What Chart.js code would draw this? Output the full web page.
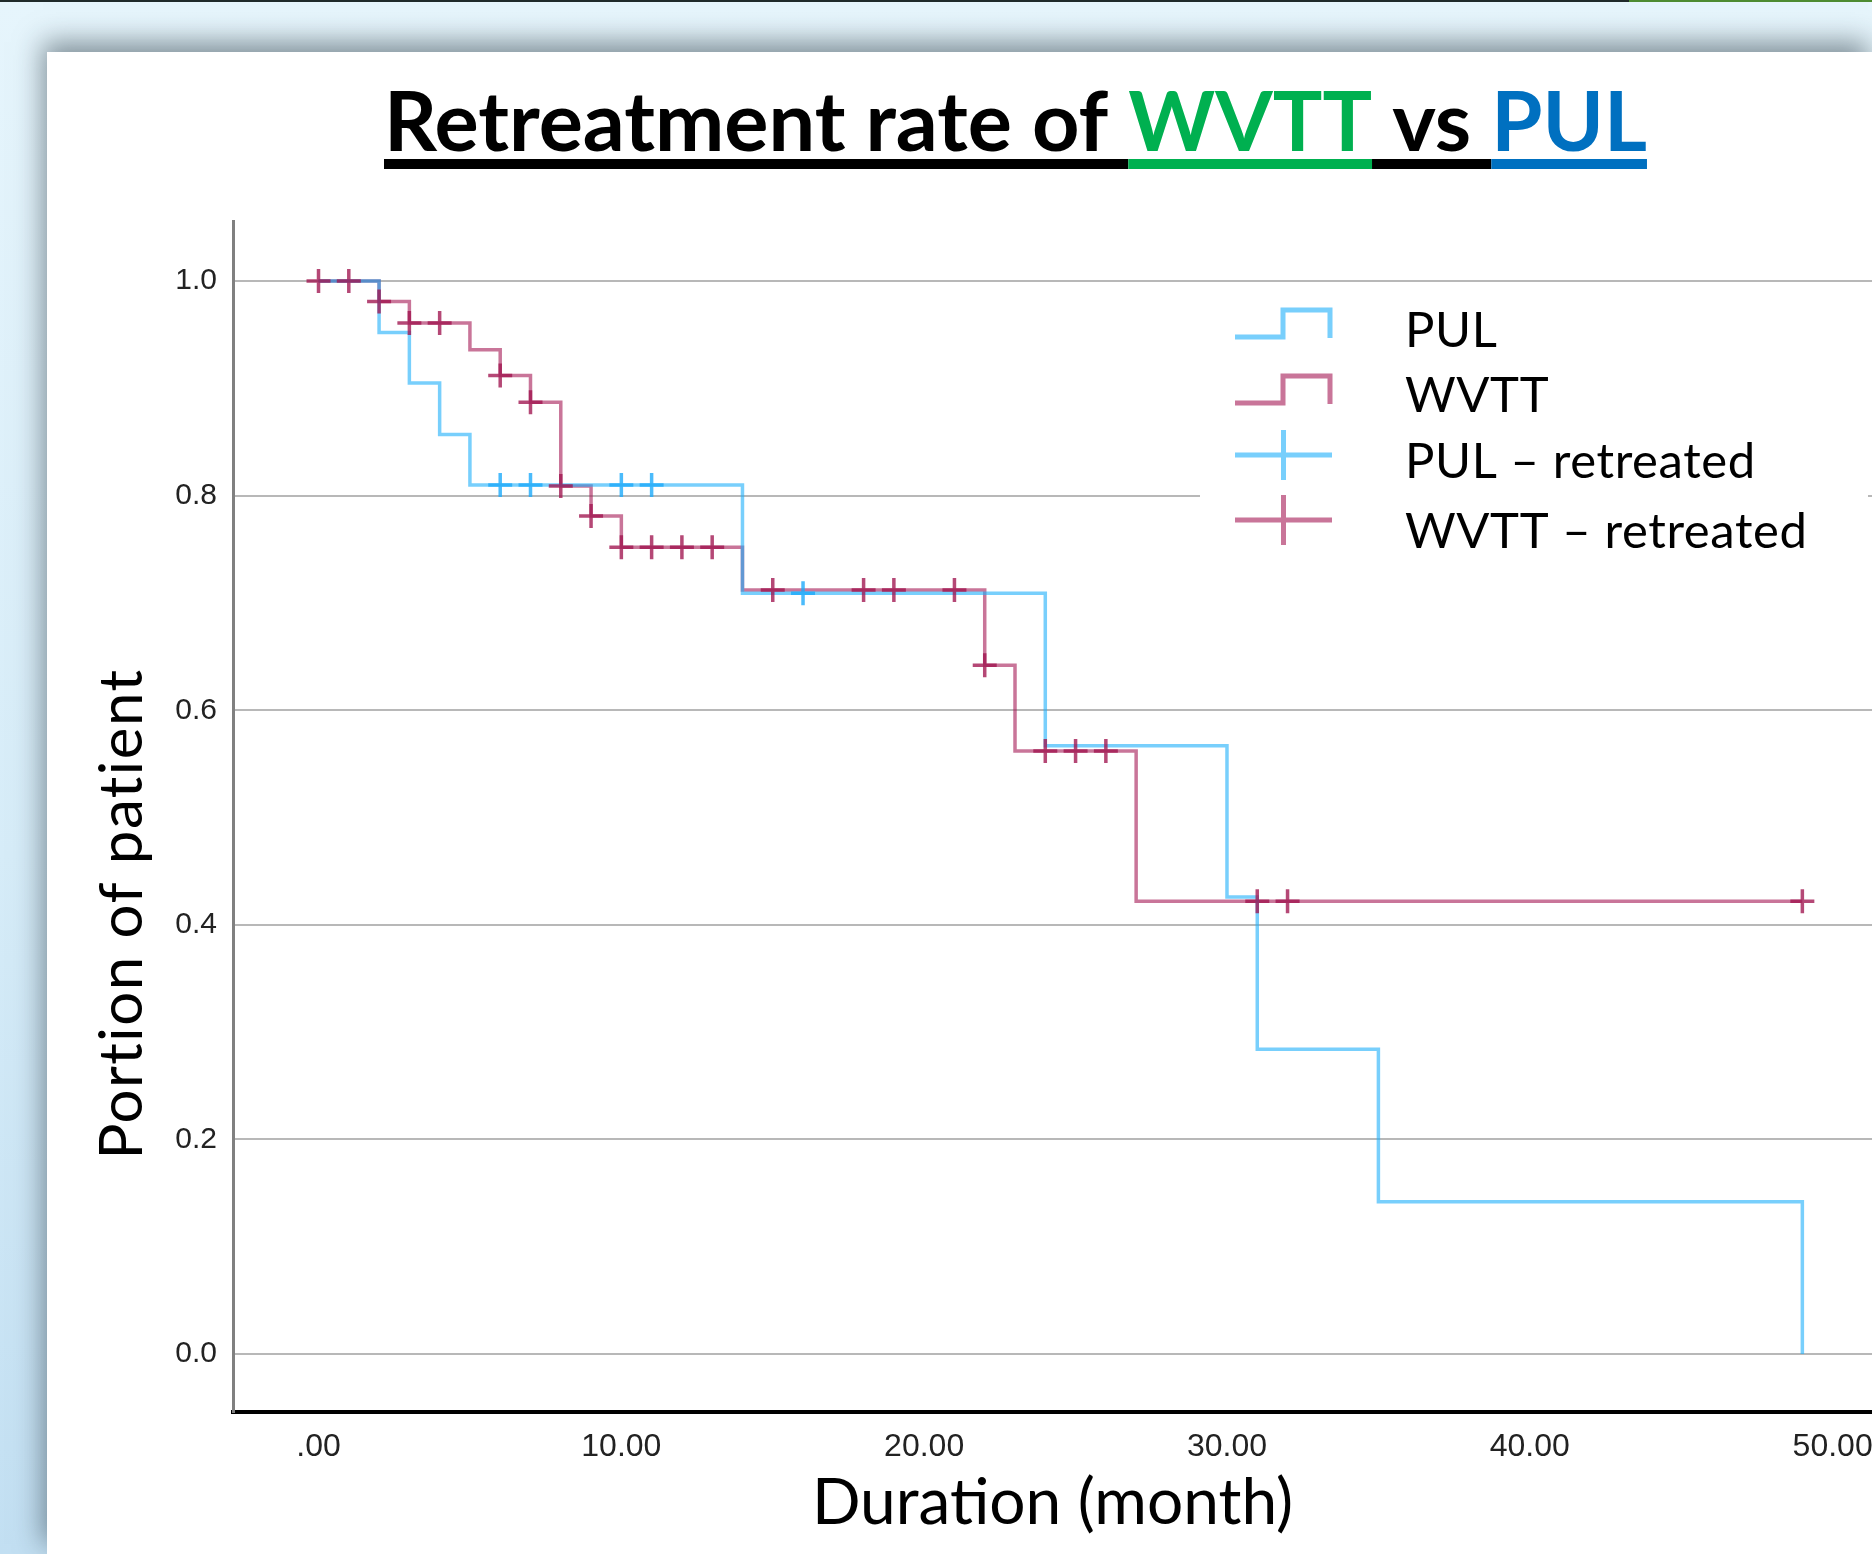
<!DOCTYPE html>
<html lang="en">
<head>
<meta charset="UTF-8">
<title>Retreatment rate of WVTT vs PUL</title>
<script src="https://cdn.jsdelivr.net/npm/chart.js@4.4.1/dist/chart.umd.min.js"></script>
<style>
  html, body { margin: 0; padding: 0; }
  body {
    width: 1872px;
    height: 1554px;
    overflow: hidden;
    position: relative;
    background: linear-gradient(180deg, #e6f5fc 0%, #d6ecf8 55%, #c2dff2 100%);
  }
  .linhaTopo { position: absolute; left: 0; top: 0; width: 1629px; height: 2px; background: #1f2a2a; }
  .linhaTopo.verde { left: 1629px; width: 243px; background: #4d8b31; }
  .cartao {
    position: absolute; left: 47px; top: 52px; right: 0; bottom: 0;
    background: #fff;
    box-shadow: -4px -10px 26px rgba(30, 45, 55, 0.5);
  }
  #grafico { position: absolute; left: 0; top: 0; }
</style>
</head>
<body>
<div class="linhaTopo"></div><div class="linhaTopo verde"></div>
<div class="cartao"></div>
<canvas id="grafico" width="1872" height="1554"></canvas>
<script>
// Kaplan-Meier steps (month, portion still not retreated)
const pulTimes = [0, 2, 3, 4, 5, 14, 24, 30, 31, 35, 49];
const pulValues = [1, 0.952, 0.905, 0.857, 0.810, 0.709, 0.567, 0.426, 0.284, 0.142, 0];
const wvttTimes = [0, 2, 3, 5, 6, 7, 8, 9, 10, 14, 22, 23, 27, 49];
const wvttValues = [1, 0.981, 0.961, 0.936, 0.912, 0.887, 0.809, 0.781, 0.752, 0.712, 0.642, 0.562, 0.422, 0.422];

// Censor marks (+)
const pulCensoredTimes = [6, 7, 10, 11, 16];
const pulCensoredValues = [0.810, 0.810, 0.810, 0.810, 0.709];
const wvttCensoredTimes = [0, 1, 2, 3, 4, 6, 7, 8, 9, 10, 11, 12, 13, 15, 18, 19, 21, 22, 24, 25, 26, 31, 32, 49];
const wvttCensoredValues = [1, 1, 0.981, 0.961, 0.961, 0.912, 0.887, 0.809, 0.781, 0.752, 0.752, 0.752, 0.752,
  0.712, 0.712, 0.712, 0.712, 0.642, 0.562, 0.562, 0.562, 0.422, 0.422, 0.422];

// Ticks and texts
const xTicks = [0, 10, 20, 30, 40, 50];
const xTickLabels = ['.00', '10.00', '20.00', '30.00', '40.00', '50.00'];
const yTicks = [0, 0.2, 0.4, 0.6, 0.8, 1.0];
const yTickLabels = ['0.0', '0.2', '0.4', '0.6', '0.8', '1.0'];
const legendLabels = ['PUL', 'WVTT', 'PUL – retreated', 'WVTT – retreated'];
const titleParts = ['Retreatment rate of ', 'WVTT', ' vs ', 'PUL'];
const xTitle = 'Duration (month)';
const yTitle = 'Portion of patient';

// Colours
const pulColor = 'rgba(30, 175, 250, 0.6)';
const wvttColor = 'rgba(165, 25, 85, 0.6)';
const pulMarkColor = 'rgba(30, 170, 250, 0.8)';
const wvttMarkColor = 'rgba(160, 20, 80, 0.78)';
const titleColors = ['#000000', '#00b050', '#000000', '#0070c0'];

const ctx = document.getElementById('grafico').getContext('2d');

function toPoints(times, values) {
  return times.map((t, i) => ({ x: t, y: values[i] }));
}

// Title with coloured words and a thick underline
const titlePlugin = {
  id: 'titleParts',
  afterDraw(chart) {
    const c = chart.ctx;
    const left = 384, width = 1263, baseline = 151;
    c.save();
    c.font = 'bold 90px Lato';
    const total = titleParts.reduce((w, p) => w + c.measureText(p).width, 0);
    const size = 90 * width / total;
    c.font = `bold ${size}px Lato`;
    c.textBaseline = 'alphabetic';
    let x = left;
    titleParts.forEach((part, i) => {
      const w = c.measureText(part).width;
      c.fillStyle = titleColors[i];
      c.fillText(part, x, baseline);
      c.fillRect(x, 159, w, 10);
      x += w;
    });
    c.restore();
  }
};

// Y axis title, sits lower than the axis centre
const yTitlePlugin = {
  id: 'yTitle',
  afterDraw(chart) {
    const c = chart.ctx;
    c.save();
    c.translate(142, 914);
    c.rotate(-Math.PI / 2);
    c.font = '60px Lato';
    c.letterSpacing = '1.5px';
    c.fillStyle = '#000';
    c.textAlign = 'center';
    c.textBaseline = 'alphabetic';
    c.fillText(yTitle, 0, 0);
    c.restore();
  }
};

// Legend with step and cross symbols
const legendPlugin = {
  id: 'kmLegend',
  afterDraw(chart) {
    const c = chart.ctx;
    const rows = [
      { base: 347, icon: 323 },
      { base: 412, icon: 389 },
      { base: 478, icon: 455 },
      { base: 548, icon: 520 }
    ];
    c.save();
    c.fillStyle = '#fff';
    c.fillRect(1200, 290, 668, 275);
    rows.forEach((row, i) => {
      c.strokeStyle = i % 2 === 0 ? pulColor : wvttColor;
      c.lineWidth = 5;
      c.beginPath();
      if (i < 2) {
        c.moveTo(1235, row.icon + 14);
        c.lineTo(1283, row.icon + 14);
        c.lineTo(1283, row.icon - 13);
        c.lineTo(1330, row.icon - 13);
        c.lineTo(1330, row.icon + 15);
      } else {
        c.moveTo(1235, row.icon);
        c.lineTo(1332, row.icon);
        c.moveTo(1283.5, row.icon - 25);
        c.lineTo(1283.5, row.icon + 25);
      }
      c.stroke();
      c.fillStyle = '#000';
      c.font = '49px Lato';
      c.letterSpacing = '0.6px';
      c.textBaseline = 'alphabetic';
      c.fillText(legendLabels[i], 1405, row.base);
    });
    c.restore();
  }
};

const meuGrafico = new Chart(ctx, {
  type: 'line',
  data: {
    datasets: [
      {
        label: legendLabels[0],
        data: toPoints(pulTimes, pulValues),
        borderColor: pulColor,
        borderWidth: 3.5,
        stepped: true,
        pointRadius: 0,
        fill: false,
        order: 2
      },
      {
        label: legendLabels[1],
        data: toPoints(wvttTimes, wvttValues),
        borderColor: wvttColor,
        borderWidth: 3.5,
        stepped: true,
        pointRadius: 0,
        fill: false,
        order: 2
      },
      {
        label: legendLabels[2],
        data: toPoints(pulCensoredTimes, pulCensoredValues),
        showLine: false,
        pointStyle: 'cross',
        pointRadius: 12,
        pointBorderWidth: 3.5,
        pointBorderColor: pulMarkColor,
        order: 1
      },
      {
        label: legendLabels[3],
        data: toPoints(wvttCensoredTimes, wvttCensoredValues),
        showLine: false,
        pointStyle: 'cross',
        pointRadius: 12,
        pointBorderWidth: 3.5,
        pointBorderColor: wvttMarkColor,
        order: 1
      }
    ]
  },
  options: {
    responsive: false,
    animation: false,
    devicePixelRatio: 1,
    layout: { autoPadding: false, padding: { top: 221, left: 0, right: 0, bottom: 0 } },
    plugins: {
      legend: { display: false },
      tooltip: { enabled: false }
    },
    scales: {
      x: {
        type: 'linear',
        min: -2.824,
        max: 51.3,
        afterBuildTicks: scale => { scale.ticks = xTicks.map(v => ({ value: v })); },
        afterFit: scale => {
          scale.height = 142;
          scale.paddingLeft = 0;
          scale.paddingRight = 0;
        },
        grid: { display: false, drawTicks: false },
        border: { display: true, color: '#000', width: 4 },
        ticks: {
          padding: 16,
          color: '#222',
          autoSkip: false,
          maxRotation: 0,
          font: { family: 'Liberation Sans', size: 32 },
          callback: (v, i) => xTickLabels[i]
        },
        title: {
          display: true,
          text: xTitle,
          color: '#000',
          font: { family: 'Lato', size: 64 },
          padding: { top: 0, bottom: 12 }
        }
      },
      y: {
        min: -0.054,
        max: 1.056,
        afterBuildTicks: scale => { scale.ticks = yTicks.map(v => ({ value: v })); },
        afterFit: scale => {
          scale.width = 233;
          scale.paddingTop = 0;
          scale.paddingBottom = 0;
        },
        grid: { color: '#b8b8b8', lineWidth: 2, drawTicks: false },
        border: { display: true, color: '#808080', width: 3 },
        ticks: {
          padding: 16,
          color: '#222',
          font: { family: 'Liberation Sans', size: 30 },
          callback: (v, i) => yTickLabels[i]
        }
      }
    }
  },
  plugins: [titlePlugin, yTitlePlugin, legendPlugin]
});
</script>
</body>
</html>
